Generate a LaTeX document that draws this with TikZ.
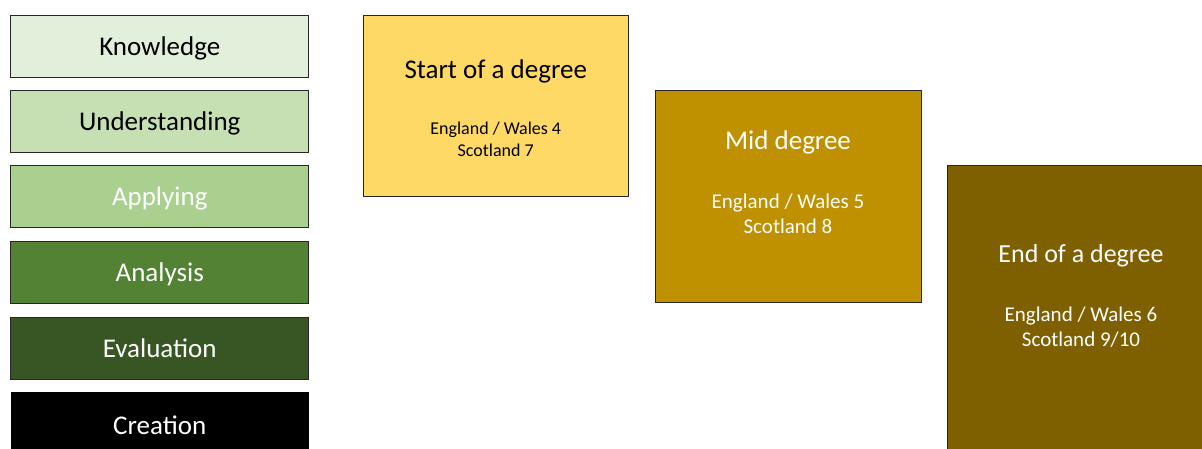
\documentclass[tikz,border=0pt]{standalone}
\usepackage{fontspec}
\setmainfont{Carlito}
\usetikzlibrary{positioning}

\definecolor{knowgreen}{HTML}{E2EFDA}
\definecolor{undergreen}{HTML}{C6E0B4}
\definecolor{applygreen}{HTML}{A9D08E}
\definecolor{anagreen}{HTML}{548235}
\definecolor{evalgreen}{HTML}{375623}
\definecolor{startgold}{HTML}{FFD966}
\definecolor{midgold}{HTML}{BF9000}
\definecolor{endgold}{HTML}{7F6000}

\begin{document}
\begin{tikzpicture}[x=1pt, y=-1pt,
	level/.style={draw=black!85, line width=1pt, minimum width=298pt, minimum height=62pt, inner sep=0pt, text height=20pt, text depth=2pt, font=\fontsize{27}{32}\selectfont},
	stage/.style={draw=black!85, line width=1pt, inner sep=0pt},
	title/.style={font=\fontsize{27}{32}\selectfont},
	grade/.style={align=center, font=\fontsize{21}{25}\selectfont}]
	\clip (0,0) rectangle (1202,448);
	\fill[white] (0,0) rectangle (1202,448);
	
	% levels of learning
	\node[level, fill=knowgreen] (know) at (159.75,46) {Knowledge};
	\node[level, fill=undergreen] (under) at (159.75,121.5) {Understanding};
	\node[level, fill=applygreen, text=white] (apply) at (159.75,196.5) {Applying};
	\node[level, fill=anagreen, text=white] (ana) at (159.75,272) {Analysis};
	\node[level, fill=evalgreen, text=white] (eval) at (159.75,348) {Evaluation};
	\node[level, fill=black, draw=none, minimum height=75pt, text=white] (create) at (159.75,429.5) {};
	\node[title, text=white] (createtext) at (159.75,425) {Creation};
	
	% stages of a degree
	\node[stage, fill=startgold, minimum width=265.5pt, minimum height=181.5pt] (start) at (495.75,105.75) {};
	\node[title] (starttitle) at (495.75,71) {Start of a degree};
	\node[grade, font=\fontsize{18}{22}\selectfont] (startgrade) at (495.75,139.5) {England / Wales 4\\Scotland 7};
	
	\node[stage, fill=midgold, minimum width=266pt, minimum height=212pt] (mid) at (788,196.5) {};
	\node[title, text=white] (midtitle) at (788,142) {Mid degree};
	\node[grade, text=white] (midgrade) at (788,214) {England / Wales 5\\Scotland 8};
	
	\node[stage, fill=endgold, minimum width=268pt, minimum height=300pt] (end) at (1081,315) {};
	\node[title, font=\fontsize{26}{31}\selectfont, text=white] (endtitle) at (1081,255.5) {End of a degree};
	\node[grade, text=white] (endgrade) at (1081,327.5) {England / Wales 6\\Scotland 9/10};
\end{tikzpicture}
\end{document}
